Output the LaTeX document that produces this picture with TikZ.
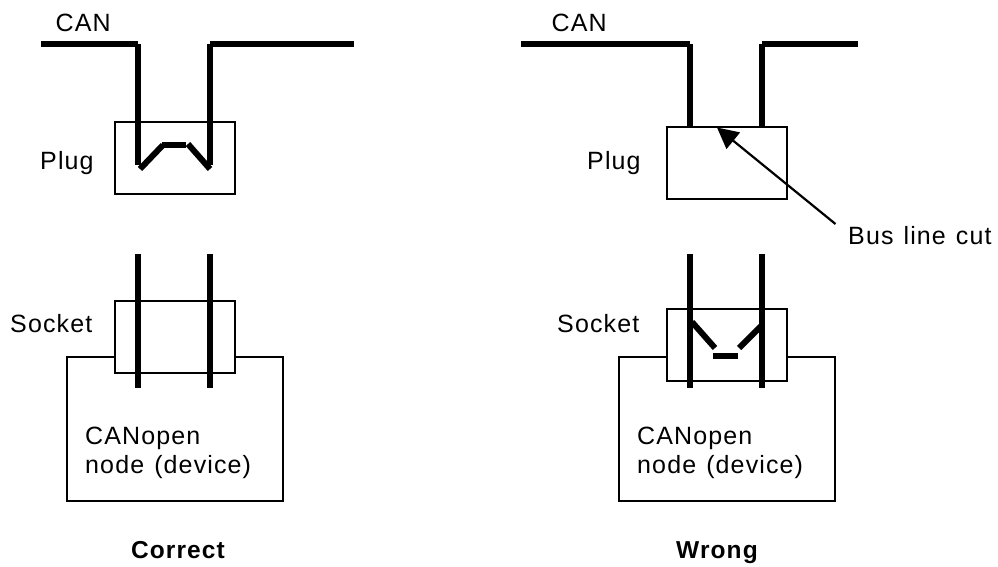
\documentclass[tikz,border=0pt]{standalone}
\usepackage{fontspec}
\setmainfont{Liberation Sans}
\newfontfamily\lblfont[LetterSpace=4.5,WordSpace=1.25]{Liberation Sans}
\usetikzlibrary{arrows.meta}
\tikzset{
  box/.style={rectangle, draw=black, fill=white, line width=2pt, inner sep=0pt},
  plugbox/.style={box, minimum width=120pt, minimum height=72pt},
  devbox/.style={box, minimum width=216pt, minimum height=144pt},
  wire/.style={line width=6pt, line cap=butt},
  lbl/.style={inner sep=0pt, anchor=base west, font=\lblfont\fontsize{25}{29}\selectfont},
  title/.style={inner sep=0pt, anchor=base, font=\lblfont\bfseries\fontsize{24.5}{29}\selectfont}
}
\begin{document}
\begin{tikzpicture}[x=1pt, y=-1pt]
\useasboundingbox (0,0) rectangle (998,566);

% left side
\node[devbox] (devl) at (175,429) {};
\node[plugbox] (sockl) at (175,337) {};
\node[plugbox] (plugl) at (175,158) {};
\coordinate (la) at (41,44);
\coordinate (lb) at (138,44);
\coordinate (lc) at (138,165);
\coordinate (ld) at (210,44);
\coordinate (le) at (354,44);
\coordinate (lf) at (210,165);
\coordinate (lg) at (140,169);
\coordinate (lh) at (163,145);
\coordinate (li) at (162,144.5);
\coordinate (lj) at (186,144.5);
\coordinate (lk) at (188,144);
\coordinate (lm) at (210,169);
\coordinate (ln) at (138,254);
\coordinate (lo) at (138,387.5);
\coordinate (lp) at (210,254);
\coordinate (lq) at (210,387.5);
\draw[wire] (la) -- (lb);
\draw[wire] (lb) -- (lc);
\draw[wire] (ld) -- (le);
\draw[wire] (ld) -- (lf);
\draw[wire] (lg) -- (lh);
\draw[wire] (li) -- (lj);
\draw[wire] (lk) -- (lm);
\draw[wire] (ln) -- (lo);
\draw[wire] (lp) -- (lq);

\node[lbl] (canl) at (55.5,31) {CAN};
\node[lbl] (plugtl) at (40,169) {Plug};
\node[lbl] (socktl) at (10,332) {Socket};
\node[lbl, align=left] (devtl) at (85,473) {CANopen\\node (device)};
\node[title] (correct) at (178,558) {Correct};

% right side
\node[devbox] (devr) at (727,429) {};
\node[plugbox] (sockr) at (727,345) {};
\node[plugbox] (plugr) at (727,163) {};
\coordinate (ra) at (521,44);
\coordinate (rb) at (690,44);
\coordinate (rc) at (690,127);
\coordinate (rd) at (762,44);
\coordinate (re) at (858,44);
\coordinate (rf) at (762,127);
\coordinate (rg) at (690,254);
\coordinate (rh) at (690,387.5);
\coordinate (ri) at (762,254);
\coordinate (rj) at (762,387.5);
\coordinate (rk) at (692,322);
\coordinate (rm) at (715,348);
\coordinate (rn) at (713,356);
\coordinate (ro) at (738,356);
\coordinate (rp) at (739,348);
\coordinate (rq) at (761,326);
\draw[wire] (ra) -- (rb);
\draw[wire] (rb) -- (rc);
\draw[wire] (rd) -- (re);
\draw[wire] (rd) -- (rf);
\draw[wire] (rg) -- (rh);
\draw[wire] (ri) -- (rj);
\draw[wire] (rk) -- (rm);
\draw[wire] (rn) -- (ro);
\draw[wire] (rp) -- (rq);

\node[lbl] (canr) at (551.5,31) {CAN};
\node[lbl] (plugtr) at (587,169) {Plug};
\node[lbl] (socktr) at (557,332) {Socket};
\node[lbl, align=left] (devtr) at (637,473) {CANopen\\node (device)};
\node[title] (wrong) at (717,558) {Wrong};
\node[lbl] (cut) at (848,244) {Bus line cut};

\coordinate (cutfrom) at (835.5,224);
\coordinate (cutto) at (717,127.5);
\draw[-{Triangle[length=21pt, width=21pt]}, line width=2.2pt] (cutfrom) -- (cutto);
\end{tikzpicture}
\end{document}
